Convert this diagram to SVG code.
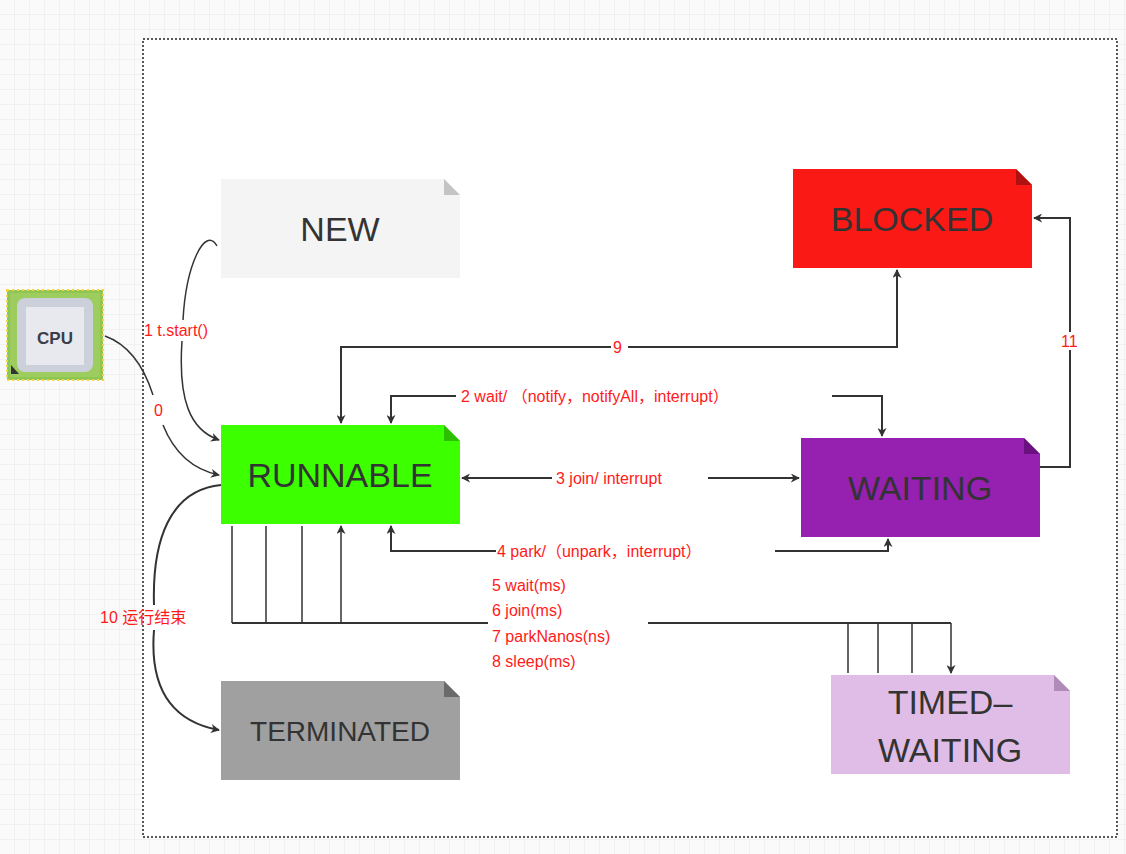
<svg xmlns="http://www.w3.org/2000/svg" width="1126" height="854" viewBox="0 0 1126 854">
<defs>
<pattern id="grid" width="15" height="15" patternUnits="userSpaceOnUse"><path d="M15 0V15H0" fill="none" stroke="#e8e8e8" stroke-width="1"/></pattern>
<marker id="ar" viewBox="0 0 10 10" refX="9" refY="5" markerWidth="9" markerHeight="9" orient="auto-start-reverse" markerUnits="userSpaceOnUse"><path d="M0,0L10,5L0,10L3,5z" fill="#333"/></marker>
</defs>
<style>
.n{font-family:"Liberation Sans",Arial,sans-serif;font-size:34px;fill:#333;text-anchor:middle}
.l{font-family:"Liberation Sans","Noto Sans CJK SC",sans-serif;font-size:16px;fill:#ff1a1a}
.c{fill:none;stroke:#333;stroke-width:2}
.t{fill:none;stroke:#333;stroke-width:1.5}
</style>
<rect width="1126" height="854" fill="#fafafa"/>
<rect width="1126" height="854" fill="url(#grid)"/>
<rect x="143" y="39" width="974" height="798" fill="#fff" stroke="#222" stroke-width="1.5" stroke-dasharray="2,2"/>

<g id="cpu">
<rect x="7" y="290" width="96" height="90" fill="#8dc653" stroke="#f7d23e" stroke-width="2" stroke-dasharray="2,3"/>
<rect x="10" y="293" width="90" height="84" fill="#9ccd5e"/>
<rect x="17" y="298" width="76" height="74" rx="8" fill="#ccd0da"/>
<rect x="26" y="307" width="58" height="58" fill="#e7e9ee"/>
<path d="M11 365L19 374H11z" fill="#333"/>
<text x="55" y="344" font-family="Liberation Sans,Arial,sans-serif" font-size="17" font-weight="bold" fill="#3a3d48" text-anchor="middle">CPU</text>
</g>

<g id="new"><path d="M221 179H444L460 195V278H221z" fill="#f4f4f4"/><path d="M444 179L460 195H444z" fill="#c4c4c4"/><text class="n" x="340" y="241">NEW</text></g>
<g id="blocked"><path d="M793 169H1016L1032 185V268H793z" fill="#fa1914"/><path d="M1016 169L1032 185H1016z" fill="#b01010"/><text class="n" x="912" y="231">BLOCKED</text></g>
<g id="runnable"><path d="M221 425H444L460 441V524H221z" fill="#3cff00"/><path d="M444 425L460 441H444z" fill="#2bbf00"/><text class="n" x="340" y="487">RUNNABLE</text></g>
<g id="waiting"><path d="M801 438H1024L1040 454V537H801z" fill="#9620b0"/><path d="M1024 438L1040 454H1024z" fill="#6a1080"/><text class="n" x="920" y="500">WAITING</text></g>
<g id="terminated"><path d="M221 681H444L460 697V780H221z" fill="#a0a0a0"/><path d="M444 681L460 697H444z" fill="#6a6a6a"/><text class="n" x="340" y="741" style="font-size:28px">TERMINATED</text></g>
<g id="timed"><path d="M831 675H1054L1070 691V774H831z" fill="#e0bde6"/><path d="M1054 675L1070 691H1054z" fill="#b08ab8"/><text class="n" x="950" y="714">TIMED–</text><text class="n" x="950" y="762">WAITING</text></g>

<g id="connectors">
<path class="t" d="M217 246C205 225 186 265 183 320M182 341C178 400 190 430 219 440" marker-end="url(#ar)"/>
<path class="t" d="M105 336C130 345 145 370 153 395M163 425C175 455 195 470 219 475" marker-end="url(#ar)"/>
<path class="c" d="M341 423V347H611M628 347H897V270" stroke="#3a2a2a" marker-start="url(#ar)" marker-end="url(#ar)"/>
<path class="c" d="M391 423V396H456M832 396H882V436" marker-start="url(#ar)" marker-end="url(#ar)"/>
<path class="c" d="M462 478H552M708 478H799" marker-start="url(#ar)" marker-end="url(#ar)"/>
<path class="c" d="M391 526V551H496M775 551H888V539" marker-start="url(#ar)" marker-end="url(#ar)"/>
<path class="c" d="M1040 467H1070V350M1070 332V218H1034" marker-end="url(#ar)"/>
<path class="c" d="M221 485C170 490 152 540 154 605M154 630C150 680 165 720 219 730" marker-end="url(#ar)"/>
<path class="c" d="M232 623H488M648 623H951"/>
<path class="t" d="M232 623V526M266 623V526M302 623V526M341 623V526" marker-end="url(#ar)"/>
<path class="t" d="M848 623V673M878 623V673M912 623V673M951 623V673" marker-end="url(#ar)"/>
</g>
<g id="labels">
<text class="l" x="144" y="336">1 t.start()</text>
<text class="l" x="154" y="416">0</text>
<text class="l" x="613" y="353">9</text>
<text class="l" x="461" y="402">2 wait/ （notify，notifyAll，interrupt）</text>
<text class="l" x="556" y="484">3 join/ interrupt</text>
<text class="l" x="497" y="557">4 park/（unpark，interrupt）</text>
<text class="l" x="1061" y="347">11</text>
<text class="l" x="100" y="623">10 运行结束</text>
<text class="l" x="492" y="591">5 wait(ms)</text>
<text class="l" x="492" y="616">6 join(ms)</text>
<text class="l" x="492" y="642">7 parkNanos(ns)</text>
<text class="l" x="492" y="667">8 sleep(ms)</text>
</g>
</svg>
